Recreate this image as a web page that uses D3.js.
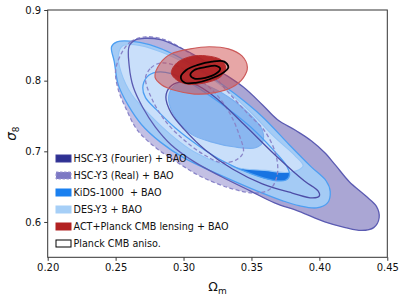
<!DOCTYPE html>
<html>
<head>
<meta charset="utf-8">
<script src="https://cdn.jsdelivr.net/npm/d3@7"></script>
<style>
  html, body { margin: 0; padding: 0; background: #fff; }
  svg { display: block; font-family: "DejaVu Sans", sans-serif; }
</style>
</head>
<body>
<div id="chart"></div>
<script>
// Contour outlines, [Omega_m, sigma_8] points
const fourier95 = [[0.260,0.849],[0.265,0.858],[0.272,0.860],[0.283,0.858],[0.296,0.848],[0.312,0.832],[0.328,0.812],[0.344,0.791],[0.358,0.766],[0.369,0.745],[0.383,0.729],[0.394,0.715],[0.404,0.698],[0.412,0.680],[0.422,0.657],[0.434,0.637],[0.442,0.622],[0.444,0.606],[0.440,0.592],[0.431,0.588],[0.419,0.592],[0.404,0.600],[0.385,0.615],[0.367,0.627],[0.349,0.644],[0.328,0.664],[0.308,0.685],[0.291,0.709],[0.279,0.735],[0.270,0.762],[0.263,0.791],[0.260,0.821]];
const fourier68 = [[0.287,0.777],[0.290,0.791],[0.297,0.798],[0.308,0.795],[0.323,0.777],[0.344,0.739],[0.369,0.692],[0.389,0.658],[0.399,0.644],[0.400,0.637],[0.395,0.634],[0.380,0.641],[0.358,0.654],[0.336,0.675],[0.316,0.702],[0.301,0.730],[0.291,0.754]];
const real95 = [[0.255,0.841],[0.261,0.855],[0.272,0.862],[0.286,0.858],[0.301,0.843],[0.316,0.822],[0.330,0.790],[0.347,0.754],[0.360,0.728],[0.368,0.695],[0.369,0.667],[0.364,0.647],[0.353,0.641],[0.334,0.648],[0.312,0.665],[0.295,0.685],[0.279,0.706],[0.266,0.730],[0.258,0.759],[0.252,0.787],[0.250,0.815]];
const real68 = [[0.272,0.804],[0.276,0.818],[0.283,0.825],[0.295,0.821],[0.309,0.805],[0.323,0.783],[0.334,0.754],[0.341,0.723],[0.344,0.699],[0.339,0.688],[0.328,0.684],[0.316,0.694],[0.301,0.715],[0.287,0.742],[0.277,0.773]];
const kids95 = [[0.247,0.848],[0.251,0.855],[0.261,0.856],[0.275,0.851],[0.294,0.836],[0.316,0.811],[0.338,0.781],[0.358,0.749],[0.378,0.709],[0.394,0.678],[0.405,0.658],[0.408,0.643],[0.406,0.627],[0.398,0.620],[0.385,0.623],[0.373,0.630],[0.349,0.648],[0.325,0.668],[0.300,0.691],[0.283,0.713],[0.269,0.738],[0.259,0.766],[0.252,0.794],[0.249,0.827]];
const kids68 = [[0.270,0.790],[0.273,0.805],[0.280,0.812],[0.291,0.810],[0.308,0.793],[0.328,0.767],[0.349,0.735],[0.366,0.702],[0.376,0.679],[0.378,0.666],[0.375,0.659],[0.366,0.659],[0.350,0.668],[0.330,0.685],[0.311,0.708],[0.294,0.733],[0.280,0.759],[0.272,0.776]];
const des95 = [[0.255,0.849],[0.264,0.851],[0.283,0.841],[0.305,0.821],[0.327,0.794],[0.349,0.756],[0.367,0.720],[0.382,0.694],[0.388,0.680],[0.385,0.674],[0.375,0.670],[0.360,0.673],[0.345,0.675],[0.328,0.682],[0.308,0.699],[0.291,0.723],[0.275,0.752],[0.262,0.780],[0.254,0.812],[0.252,0.836]];
const des68 = [[0.289,0.773],[0.291,0.788],[0.297,0.797],[0.308,0.798],[0.321,0.790],[0.336,0.773],[0.349,0.752],[0.358,0.730],[0.358,0.712],[0.353,0.705],[0.338,0.706],[0.321,0.713],[0.306,0.724],[0.295,0.745]];
const act95 = [[0.279,0.805],[0.283,0.825],[0.291,0.838],[0.305,0.845],[0.319,0.848],[0.333,0.845],[0.343,0.835],[0.347,0.819],[0.344,0.804],[0.336,0.791],[0.323,0.783],[0.308,0.781],[0.294,0.786],[0.284,0.794]];
const act68 = [[0.291,0.811],[0.295,0.825],[0.305,0.834],[0.317,0.835],[0.328,0.829],[0.331,0.818],[0.327,0.805],[0.316,0.797],[0.303,0.795],[0.295,0.801]];
const planck95 = [[0.298,0.805],[0.302,0.815],[0.310,0.822],[0.321,0.827],[0.330,0.827],[0.333,0.819],[0.329,0.811],[0.319,0.802],[0.309,0.797],[0.301,0.797]];
const planck68 = [[0.305,0.808],[0.308,0.815],[0.316,0.819],[0.324,0.821],[0.327,0.817],[0.324,0.810],[0.316,0.804],[0.308,0.803]];

const xTicks = [0.20, 0.25, 0.30, 0.35, 0.40, 0.45];
const yTicks = [0.6, 0.7, 0.8, 0.9];
const legendLabels = ['HSC-Y3 (Fourier) + BAO', 'HSC-Y3 (Real) + BAO', 'KiDS-1000  + BAO', 'DES-Y3 + BAO', 'ACT+Planck CMB lensing + BAO', 'Planck CMB aniso.'];

const width = 407, height = 301;
const margin = {top: 10, right: 19.7, bottom: 43.7, left: 47.7};

const svg = d3.select('#chart').append('svg')
  .attr('width', width)
  .attr('height', height);

const x = d3.scaleLinear().domain([0.2, 0.45]).range([margin.left, width - margin.right]);
const y = d3.scaleLinear().domain([0.55, 0.9]).range([height - margin.bottom, margin.top]);

svg.append('defs').append('clipPath').attr('id', 'clip')
  .append('rect')
  .attr('x', margin.left).attr('y', margin.top)
  .attr('width', x(0.45) - x(0.2)).attr('height', y(0.55) - y(0.9));

const line = d3.line()
  .x(d => x(d[0]))
  .y(d => y(d[1]))
  .curve(d3.curveCatmullRomClosed.alpha(0.5));

const g = svg.append('g').attr('clip-path', 'url(#clip)');

// fills, bottom to top
const fills = [
  {data: fourier95, fill: '#aaa6d4', op: 1},
  {data: real95, fill: '#b9b5df', op: 0.85},
  {data: kids95, fill: '#a4cbf5', op: 1},
  {data: kids68, fill: '#1874e2', op: 1},
  {data: des95, fill: '#c9dffa', op: 1},
  {data: des68, fill: '#8ab7f0', op: 1}
];
fills.forEach(f => {
  g.append('path').attr('d', line(f.data))
    .attr('fill', f.fill).attr('fill-opacity', f.op).attr('stroke', 'none');
});

// contour lines
const lines = [
  {data: des95, stroke: '#93c4f6', w: 1.1},
  {data: des68, stroke: '#79aff0', w: 1.1},
  {data: kids95, stroke: '#4d9ff2', w: 1.3},
  {data: kids68, stroke: '#4d9ff2', w: 1.3},
  {data: real95, stroke: '#8a85c9', w: 1.3, dash: '4,2.5'},
  {data: real68, stroke: '#8a85c9', w: 1.3, dash: '4,2.5'},
  {data: fourier95, stroke: '#5b5bb2', w: 1.3},
  {data: fourier68, stroke: '#4d4da6', w: 1.3}
];
lines.forEach(l => {
  g.append('path').attr('d', line(l.data))
    .attr('fill', 'none').attr('stroke', l.stroke)
    .attr('stroke-width', l.w)
    .attr('stroke-dasharray', l.dash || null);
});

// ACT + Planck lensing
g.append('path').attr('d', line(act95))
  .attr('fill', '#cc4444').attr('fill-opacity', 0.48)
  .attr('stroke', '#cc5a5a').attr('stroke-width', 1.2);
g.append('path').attr('d', line(act68))
  .attr('fill', '#b01e1e').attr('fill-opacity', 0.9)
  .attr('stroke', '#b83030').attr('stroke-width', 1);

// Planck CMB anisotropies
[planck95, planck68].forEach(p => {
  g.append('path').attr('d', line(p))
    .attr('fill', 'none').attr('stroke', '#000').attr('stroke-width', 1.8);
});

// axes
const xAxis = d3.axisBottom(x).tickValues(xTicks).tickFormat(d3.format('.2f')).tickSize(3.5).tickPadding(3);
const yAxis = d3.axisLeft(y).tickValues(yTicks).tickFormat(d3.format('.1f')).tickSize(3.5).tickPadding(3);

const gx = svg.append('g').attr('transform', `translate(0,${y(0.55)})`).call(xAxis);
const gy = svg.append('g').attr('transform', `translate(${x(0.2)},0)`).call(yAxis);
[gx, gy].forEach(a => {
  a.select('.domain').remove();
  a.selectAll('line').attr('stroke', '#222').attr('stroke-width', 0.9);
  a.selectAll('text').attr('font-size', 10).attr('fill', '#111')
    .attr('font-family', '"DejaVu Sans", sans-serif');
});

svg.append('rect')
  .attr('x', x(0.2)).attr('y', y(0.9))
  .attr('width', x(0.45) - x(0.2)).attr('height', y(0.55) - y(0.9))
  .attr('fill', 'none').attr('stroke', '#333').attr('stroke-width', 1);

// axis labels
const xl = svg.append('text')
  .attr('x', (x(0.2) + x(0.45)) / 2).attr('y', 291)
  .attr('text-anchor', 'middle').attr('font-size', 12.5).attr('fill', '#111');
xl.append('tspan').text('Ω');
xl.append('tspan').attr('font-size', 9).attr('dy', 2.5).text('m');

const yl = svg.append('text')
  .attr('transform', `translate(16,${(y(0.55) + y(0.9)) / 2}) rotate(-90)`)
  .attr('text-anchor', 'middle').attr('font-size', 13.5).attr('fill', '#111');
yl.append('tspan').attr('font-style', 'italic').text('σ');
yl.append('tspan').attr('font-size', 9).attr('dy', 2.5).text('8');

// legend
const legendStyles = [
  {fill: '#2e3192', stroke: '#3a3a9a'},
  {fill: '#7c78c4', stroke: '#9a96d2', dash: '2.5,1.5'},
  {fill: '#1a80f0', stroke: '#1a80f0'},
  {fill: '#a6cff7', stroke: '#a6cff7'},
  {fill: '#b22222', stroke: '#b22222'},
  {fill: '#fff', stroke: '#000'}
];
const legend = svg.append('g');
legendLabels.forEach((lab, i) => {
  const row = legend.append('g').attr('transform', `translate(56,${158.5 + i * 17})`);
  row.append('rect').attr('x', 0).attr('y', -3.5).attr('width', 15).attr('height', 7)
    .attr('fill', legendStyles[i].fill).attr('stroke', legendStyles[i].stroke)
    .attr('stroke-width', 1).attr('stroke-dasharray', legendStyles[i].dash || null);
  row.append('text').attr('x', 17.5).attr('y', 3.5)
    .attr('font-size', 9.6).attr('fill', '#111')
    .style('white-space', 'pre')
    .text(lab);
});
</script>
</body>
</html>
